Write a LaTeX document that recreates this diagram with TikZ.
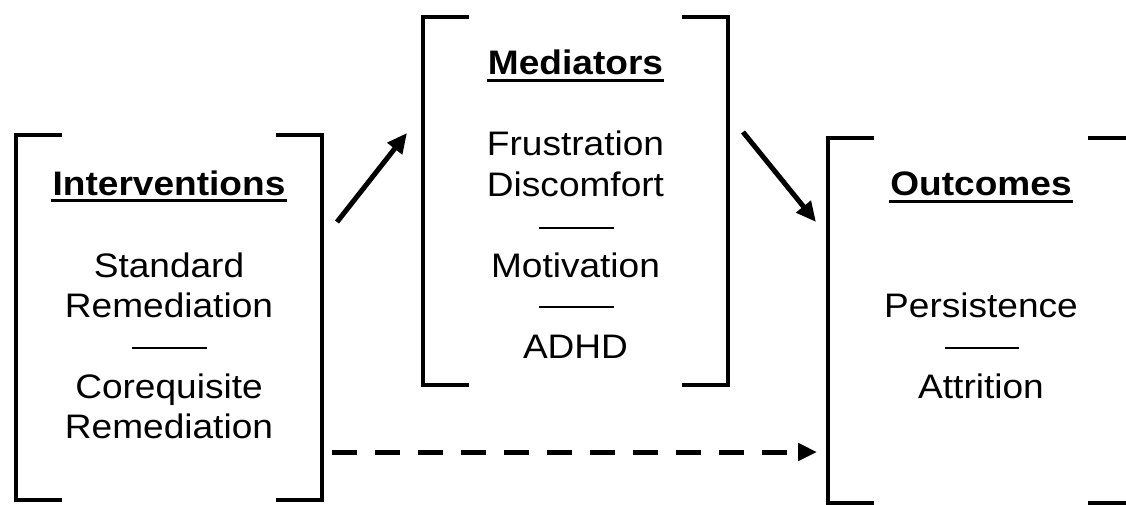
\documentclass[tikz,border=0pt]{standalone}
\usepackage{fontspec}
\setmainfont{Liberation Sans}[FakeStretch=1.09]
\usetikzlibrary{arrows.meta}
\begin{document}
\begin{tikzpicture}[x=1pt,y=-1pt,
  bracketbox/.style={inner sep=0pt, outer sep=0pt},
  brk/.style={line width=4.5pt, line cap=butt, line join=miter},
  lbl/.style={anchor=base, inner sep=0pt, font=\fontsize{34}{40}\selectfont},
  hdr/.style={anchor=base, inner sep=0pt, font=\fontsize{34}{40}\selectfont\bfseries},
  sep/.style={line width=2.5pt},
  uline/.style={line width=3pt},
  arr/.style={line width=5pt, -{Triangle[length=20pt,width=18pt]}, shorten >=0pt},
  darr/.style={line width=5pt, dash pattern=on 25pt off 18pt, -{Triangle[length=19pt,width=17pt]}}]
\useasboundingbox (0,0) rectangle (1126,504);
% boxes
\node[bracketbox, minimum width=306pt, minimum height=365pt] (I) at (169,317.5) {};
\node[bracketbox, minimum width=305pt, minimum height=368pt] (M) at (575.5,201) {};
\node[bracketbox, minimum width=306pt, minimum height=365pt] (O) at (981,320.5) {};
\foreach \b in {I,M,O}{
  \draw[brk] ([xshift=46pt]\b.north west) -- (\b.north west) -- (\b.south west) -- ([xshift=46pt]\b.south west);
  \draw[brk] ([xshift=-46pt]\b.north east) -- (\b.north east) -- (\b.south east) -- ([xshift=-46pt]\b.south east);
}
% Interventions
\node[hdr] (ih) at (169,195) {Interventions};
\draw[uline] ([shift={(-1pt,-5pt)}]ih.base west) -- ([shift={(1pt,-5pt)}]ih.base east);
\node[lbl] (i1) at (169,277) {Standard};
\node[lbl] (i2) at (169,317) {Remediation};
\draw[sep] (132,348) -- (207,348);
\node[lbl] (i3) at (169,398) {Corequisite};
\node[lbl] (i4) at (169,438) {Remediation};
% Mediators
\node[hdr] (mh) at (575.5,74) {Mediators};
\draw[uline] ([shift={(-1pt,-6pt)}]mh.base west) -- ([shift={(1pt,-6pt)}]mh.base east);
\node[lbl] (m1) at (575.5,155) {Frustration};
\node[lbl] (m2) at (575.5,196) {Discomfort};
\draw[sep] (539,228) -- (614,228);
\node[lbl] (m3) at (575.5,277) {Motivation};
\draw[sep] (539,307) -- (614,307);
\node[lbl] (m4) at (575.5,358) {ADHD};
% Outcomes
\node[hdr] (oh) at (981,195) {Outcomes};
\draw[uline] ([shift={(-1pt,-6pt)}]oh.base west) -- ([shift={(1pt,-6pt)}]oh.base east);
\node[lbl] (o1) at (981,317) {Persistence};
\draw[sep] (945,348) -- (1019,348);
\node[lbl] (o2) at (981,398) {Attrition};
% connectors
\coordinate (a1s) at (337,222);
\coordinate (a1e) at (407,133);
\coordinate (a2s) at (743,132);
\coordinate (a2e) at (816,222);
\coordinate (a3s) at (332,452);
\coordinate (a3e) at (817,452);
\draw[arr] (a1s) -- (a1e);
\draw[arr] (a2s) -- (a2e);
\draw[darr] (a3s) -- (a3e);
\end{tikzpicture}
\end{document}
